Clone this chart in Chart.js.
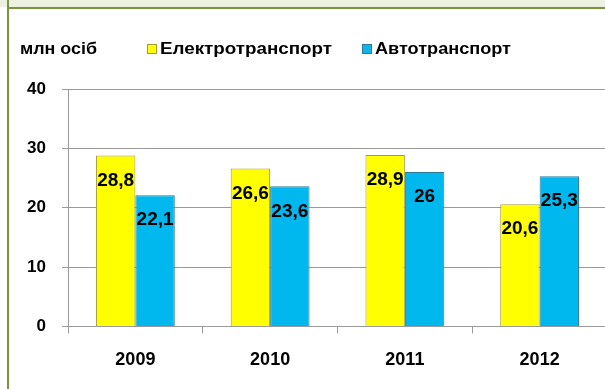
<!DOCTYPE html>
<html>
<head>
<meta charset="utf-8">
<script src="https://cdn.jsdelivr.net/npm/chart.js@4/dist/chart.umd.min.js"></script>
<style>
  html, body { margin: 0; padding: 0; background: #ffffff; overflow: hidden; width: 605px; height: 389px; }
  #wrap { position: relative; width: 605px; height: 389px; overflow: hidden; }
  #band { position: absolute; left: 0; top: 0; width: 605px; height: 7px; background: #ebf1de; }
  #bandLine { position: absolute; left: 7px; top: 7px; width: 598px; height: 2px; background: #77933c; }
  #leftLine { position: absolute; left: 7px; top: 0; width: 2px; height: 389px; background: #77933c; }
  #chartBox { position: absolute; left: 0; top: 0; width: 612px; height: 389px; }
  .txt { position: absolute; font: bold 16px "Liberation Sans", Arial, sans-serif; color: #000; white-space: nowrap; line-height: 18px; transform-origin: 0 50%; }
  .box { position: absolute; width: 10px; height: 10px; box-sizing: border-box; }
</style>
</head>
<body>
<div id="wrap">
  <div id="chartBox"><canvas id="c" width="612" height="389"></canvas></div>
  <div id="band"></div>
  <div id="bandLine"></div>
  <div id="leftLine"></div>
  <div id="unit" class="txt" style="left:20px; top:40px;">млн осіб</div>
  <div id="legend"></div>
</div>
<script>
const categories = ["2009", "2010", "2011", "2012"];
const electroValues = [28.8, 26.6, 28.9, 20.6];
const autoValues = [22.1, 23.6, 26, 25.3];
const seriesNames = ["Електротранспорт", "Автотранспорт"];
const yTicks = [0, 10, 20, 30, 40];

const FONT = '"Liberation Sans", Arial, sans-serif';

const valueLabels = {
  id: 'valueLabels',
  afterDatasetsDraw(chart) {
    const ctx = chart.ctx;
    ctx.save();
    ctx.font = 'bold 19px ' + FONT;
    ctx.fillStyle = '#000';
    ctx.textAlign = 'center';
    ctx.textBaseline = 'middle';
    chart.data.datasets.forEach((ds, i) => {
      const meta = chart.getDatasetMeta(i);
      meta.data.forEach((bar, j) => {
        const txt = String(ds.data[j]).replace('.', ',');
        ctx.fillText(txt, bar.x, bar.y + 25);
      });
    });
    ctx.restore();
  }
};

function barGradient(ctx, light, mid, dark) {
  const el = ctx.element;
  const chart = ctx.chart;
  if (!el || !chart.chartArea || el.width === undefined) return mid;
  const x0 = el.x - el.width / 2, x1 = el.x + el.width / 2;
  const g = chart.ctx.createLinearGradient(x0, 0, x1, 0);
  g.addColorStop(0, light);
  g.addColorStop(0.12, mid);
  g.addColorStop(0.85, mid);
  g.addColorStop(1, dark);
  return g;
}

const chart = new Chart(document.getElementById('c'), {
  type: 'bar',
  data: {
    labels: categories,
    datasets: [
      { label: seriesNames[0], data: electroValues,
        backgroundColor: (c) => barGradient(c, '#e8e000', '#ffff00', '#d8cc00'),
        legendColor: '#ffff00', borderColor: '#a89a30', borderWidth: 1 },
      { label: seriesNames[1], data: autoValues,
        backgroundColor: (c) => barGradient(c, '#40c8f0', '#00b8ee', '#0a8cbc'),
        legendColor: '#10b4e8', borderColor: '#2a7a9c', borderWidth: 1 }
    ]
  },
  options: {
    responsive: false,
    animation: false,
    devicePixelRatio: 1,
    layout: { padding: { left: 0, right: 5, top: 89, bottom: 2 } },
    datasets: { bar: { categoryPercentage: 0.585, barPercentage: 1 } },
    plugins: { legend: { display: false }, tooltip: { enabled: false } },
    scales: {
      x: {
        offset: true,
        grid: { display: true, drawOnChartArea: false, drawTicks: true, tickLength: 7, color: '#9a9a9a', offset: true },
        border: { display: true, color: '#9a9a9a', width: 1 },
        ticks: { font: { family: FONT, size: 18, weight: 'bold' }, color: '#000', padding: 16 }
      },
      y: {
        min: 0, max: 40,
        afterFit(scale) { scale.width = 68; },
        afterBuildTicks(scale) { scale.ticks = yTicks.map(v => ({ value: v })); },
        grid: { color: '#9a9a9a', tickLength: 6, lineWidth: 1 },
        border: { display: true, color: '#9a9a9a', width: 1 },
        ticks: { font: { family: FONT, size: 17, weight: 'bold' }, color: '#000', padding: 16 }
      }
    }
  },
  plugins: [valueLabels]
});

// HTML legend built from the chart's datasets
const legendEl = document.getElementById('legend');
const legendBoxX = [147, 362];
const legendTextWidth = [172, 136];
chart.data.datasets.forEach((ds, i) => {
  const box = document.createElement('div');
  box.className = 'box';
  box.style.left = legendBoxX[i] + 'px';
  box.style.top = '44px';
  box.style.background = ds.legendColor;
  box.style.border = '1px solid ' + ds.borderColor;
  legendEl.appendChild(box);
  const t = document.createElement('div');
  t.className = 'txt';
  t.style.left = (legendBoxX[i] + 13) + 'px';
  t.style.top = '40px';
  t.textContent = ds.label;
  legendEl.appendChild(t);
  const w = t.getBoundingClientRect().width;
  t.style.transform = 'scaleX(' + (legendTextWidth[i] / w) + ')';
});
const unit = document.getElementById('unit');
unit.style.transform = 'scaleX(' + (77 / unit.getBoundingClientRect().width) + ')';
</script>
</body>
</html>
